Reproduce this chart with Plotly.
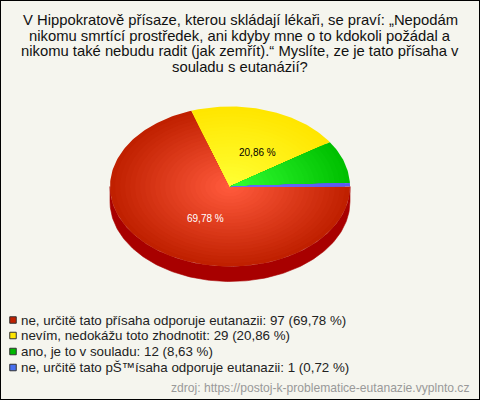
import math
import plotly.graph_objects as go

title_lines = [
    "V Hippokratově přísaze, kterou skládají lékaři, se praví: „Nepodám",
    "nikomu smrtící prostředek, ani kdyby mne o to kdokoli požádal a",
    "nikomu také nebudu radit (jak zemřít).“ Myslíte, ze je tato přísaha v",
    "souladu s eutanázií?",
]
categories = [
    "ne, určitě tato přísaha odporuje eutanazii",
    "nevím, nedokážu toto zhodnotit",
    "ano, je to v souladu",
    "ne, určitě tato pŠ™ísaha odporuje eutanazii",
]
counts = [97, 29, 12, 1]
percent_labels = ["69,78 %", "20,86 %", "8,63 %", "0,72 %"]
source = "zdroj: https://postoj-k-problematice-eutanazie.vyplnto.cz"

edge_colors = [(192, 32, 0), (255, 230, 0), (0, 192, 0), (90, 90, 245)]
centre_colors = [(255, 90, 60), (255, 255, 51), (51, 255, 51), (110, 110, 255)]
legend_colors = ["#C02000", "#FFE600", "#00B800", "#4870F0"]
side_color = "#A80000"
bg = "#F5F5EE"

CX, CY, RX, RY, DEPTH = 230, 186.5, 120, 80, 15
LAYERS = 24


def ell(a, s=1.0, dy=0.0):
    return CX + RX * s * math.cos(a), CY + dy - RY * s * math.sin(a)


def arc(a0, a1, s=1.0, dy=0.0):
    n = max(2, int(abs(a1 - a0) / 0.02))
    return [ell(a0 + (a1 - a0) * i / n, s, dy) for i in range(n + 1)]


fig = go.Figure()


def poly(points, color, width=0.0):
    xs = [p[0] for p in points] + [points[0][0]]
    ys = [p[1] for p in points] + [points[0][1]]
    fig.add_trace(go.Scatter(
        x=xs, y=ys, mode="lines", fill="toself", fillcolor=color,
        line=dict(color=color, width=width),
        hoverinfo="skip", showlegend=False,
    ))


# side wall, lower half
lower = arc(math.pi, 2 * math.pi) + arc(2 * math.pi, math.pi, dy=DEPTH)
poly(lower, side_color, 0.6)

# slices run counter-clockwise from 3 o'clock, last category first
total = sum(counts)
spans = {}
start = 0.0
for idx in reversed(range(len(counts))):
    sweep = 2 * math.pi * counts[idx] / total
    spans[idx] = (start, start + sweep)
    start += sweep

# largest slices first, so the thin one stays fully visible
for idx in range(len(counts)):
    a0, a1 = spans[idx]
    for k in range(LAYERS):
        s = 1 - k / LAYERS
        t = k / (LAYERS - 1)
        c = [round(e + (m - e) * t) for e, m in zip(edge_colors[idx], centre_colors[idx])]
        poly([(CX, CY)] + arc(a0, a1, s), f"rgb({c[0]},{c[1]},{c[2]})")

# legend squares
LEG_Y = [320, 335.5, 351.5, 367.5]
fig.add_trace(go.Scatter(
    x=[13] * 4, y=LEG_Y, mode="markers",
    marker=dict(symbol="square", size=6.5, color=legend_colors,
                line=dict(color="#333333", width=1)),
    hoverinfo="skip", showlegend=False,
))

anns = []
for i, line in enumerate(title_lines):
    anns.append(dict(x=240, y=20 + i * 15.5, text=line, showarrow=False, xanchor="center",
                     yanchor="middle", font=dict(size=14.8, color="#111111")))
for i, cat in enumerate(categories):
    anns.append(dict(x=20, y=LEG_Y[i], text=f"{cat}: {counts[i]} ({percent_labels[i]})",
                     showarrow=False, xanchor="left", yanchor="middle",
                     font=dict(size=13.33, color="#222222")))
anns.append(dict(x=470, y=388, text=source, showarrow=False, xanchor="right", yanchor="middle",
                 font=dict(size=12.1, color="#999999")))
anns.append(dict(x=205.5, y=218, text=percent_labels[0], showarrow=False,
                 font=dict(size=10, color="#FFFFFF")))
anns.append(dict(x=257.5, y=152, text=percent_labels[1], showarrow=False,
                 font=dict(size=10, color="#000000")))
for a in anns:
    a.update(xref="x", yref="y", borderpad=0)

fig.update_layout(
    width=480, height=400, margin=dict(l=0, r=0, t=0, b=0),
    paper_bgcolor=bg, plot_bgcolor=bg,
    font=dict(family="Liberation Sans, Arial, sans-serif"),
    xaxis=dict(range=[0, 480], visible=False, fixedrange=True),
    yaxis=dict(range=[400, 0], visible=False, fixedrange=True),
    annotations=anns,
    shapes=[dict(type="rect", xref="x", yref="y", x0=0, y0=0, x1=480, y1=400,
                 line=dict(color="#000000", width=2))],
)
fig.write_html(
    "out.html",
    config={"displayModeBar": False},
    post_script="document.body.style.margin='0';document.documentElement.style.overflow='hidden';",
)
